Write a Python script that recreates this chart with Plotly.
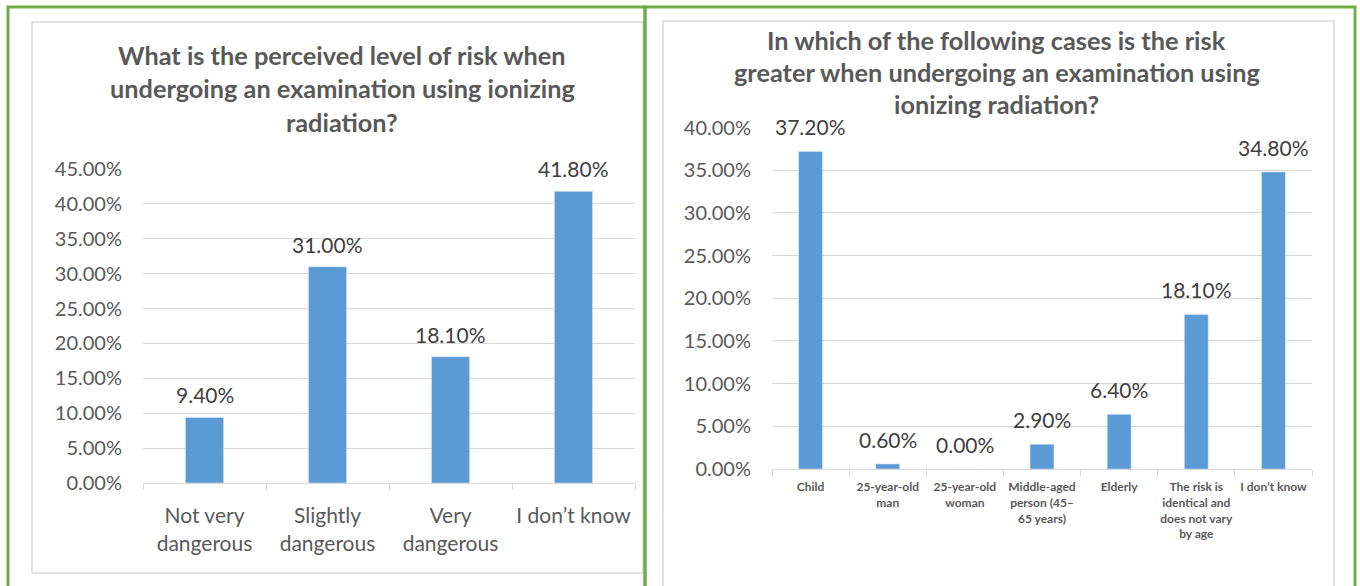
import plotly.graph_objects as go

W, H = 1360, 586

# ---- data ----
left_categories = ["Not very<br>dangerous", "Slightly<br>dangerous", "Very<br>dangerous", "I don\u2019t know"]
left_values = [0.094, 0.310, 0.181, 0.418]
left_title = ["What is the perceived level of risk when",
              "undergoing an examination using ionizing",
              "radiation?"]

right_categories = ["Child", "25-year-old<br>man", "25-year-old<br>woman",
                    "Middle-aged<br>person (45\u2013<br>65 years)", "Elderly",
                    "The risk is<br>identical and<br>does not vary<br>by age", "I don\u2019t know"]
right_values = [0.372, 0.006, 0.000, 0.029, 0.064, 0.181, 0.348]
right_title = ["In which of the following cases is the risk",
               "greater when undergoing an examination using",
               "ionizing radiation?"]

BAR = "#5b9bd5"
TXT = "#595959"
LBL = "#404040"
GRID = "#d9d9d9"
GREEN = "#70ad47"
FONT = "Lato"

def px(x):
    return x / W

def py(y):
    return 1 - y / H

fig = go.Figure()
fig.add_trace(go.Bar(x=left_categories, y=left_values, marker_color=BAR,
                     xaxis="x", yaxis="y", showlegend=False))
fig.add_trace(go.Bar(x=right_categories, y=right_values, marker_color=BAR,
                     xaxis="x2", yaxis="y2", showlegend=False))

# data labels, placed at the data coordinates
for cats, vals, xr, yr, shift in [(left_categories, left_values, "x", "y", 8),
                                  (right_categories, right_values, "x2", "y2", 10)]:
    for c, v in zip(cats, vals):
        fig.add_annotation(x=c, y=v, xref=xr, yref=yr, text=f"{v * 100:.2f}%",
                           showarrow=False, yanchor="bottom", yshift=shift,
                           font=dict(size=21, color=LBL, family=FONT))

common_x = dict(type="category", showline=True, linecolor=GRID, linewidth=1,
                ticks="outside", tickson="boundaries", tickcolor=GRID, ticklen=6,
                showgrid=False, zeroline=False, fixedrange=True, automargin=False,
                tickangle=0)
common_y = dict(showgrid=True, gridcolor=GRID, gridwidth=1, zeroline=False,
                showline=False, tickformat=".2%", ticks="", fixedrange=True,
                automargin=False, tickfont=dict(size=20, color=TXT, family=FONT))

fig.update_layout(
    width=W, height=H, margin=dict(l=0, r=0, t=0, b=0, autoexpand=False),
    paper_bgcolor="white", plot_bgcolor="white",
    bargap=0.69,
    font=dict(family=FONT, color=TXT),
    xaxis=dict(common_x, domain=[px(143), px(635)], anchor="y",
               tickfont=dict(size=21, color=TXT, family=FONT), ticklabelstandoff=14),
    yaxis=dict(common_y, domain=[py(483), py(169)], anchor="x",
               range=[0, 0.45], dtick=0.05, ticklabelstandoff=20),
    xaxis2=dict(common_x, domain=[px(772), px(1312)], anchor="y2",
                tickfont=dict(size=12, color=TXT, family=FONT, weight="bold"),
                ticklabelstandoff=7),
    yaxis2=dict(common_y, domain=[py(469), py(127.5)], anchor="x2",
                range=[0, 0.40], dtick=0.05, ticklabelstandoff=20),
)

# titles
for i, line in enumerate(left_title):
    fig.add_annotation(x=px(342), y=py(55 + 33.5 * i), xref="paper", yref="paper",
                       text=line, showarrow=False, xanchor="center", yanchor="middle",
                       font=dict(size=25.3, color=TXT, family=FONT, weight="bold"))
for i, line in enumerate(right_title):
    fig.add_annotation(x=px(997), y=py(40 + 32 * i), xref="paper", yref="paper",
                       text=line, showarrow=False, xanchor="center", yanchor="middle",
                       font=dict(size=25.3, color=TXT, family=FONT, weight="bold"))

# chart area borders (gray) and panel frames (green)
fig.add_shape(type="rect", xref="paper", yref="paper",
              x0=px(32), x1=px(643), y0=py(573), y1=py(22),
              line=dict(color=GRID, width=1.5), fillcolor="rgba(0,0,0,0)")
fig.add_shape(type="rect", xref="paper", yref="paper",
              x0=px(663), x1=px(1334), y0=py(600), y1=py(21),
              line=dict(color=GRID, width=1.5), fillcolor="rgba(0,0,0,0)")
fig.add_shape(type="rect", xref="paper", yref="paper",
              x0=px(8), x1=px(645), y0=py(600), y1=py(7),
              line=dict(color=GREEN, width=3), fillcolor="rgba(0,0,0,0)")
fig.add_shape(type="rect", xref="paper", yref="paper",
              x0=px(645), x1=px(1355), y0=py(600), y1=py(7),
              line=dict(color=GREEN, width=3), fillcolor="rgba(0,0,0,0)")

fig.write_html("out.html")
